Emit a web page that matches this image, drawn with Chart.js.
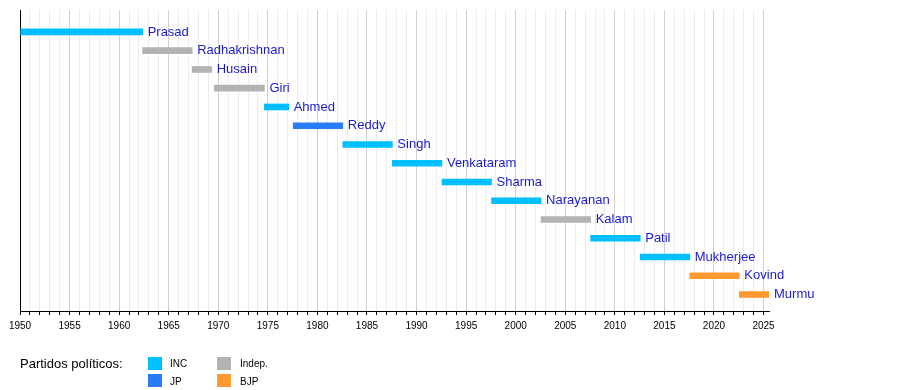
<!DOCTYPE html>
<html>
<head>
<meta charset="utf-8">
<script src="https://cdn.jsdelivr.net/npm/chart.js@4"></script>
<style>
body { margin:0; background:#fff; }
#wrap { position:relative; width:900px; height:390px; font-family:"Liberation Sans", Arial, sans-serif; }
#wrap canvas { position:absolute; left:0; top:0; }
.lg { position:absolute; color:#000; white-space:nowrap; }
.sw { position:absolute; width:14px; height:13px; }
</style>
</head>
<body>
<div id="wrap">
<canvas id="timeline" width="900" height="390"></canvas>
<div class="lg" style="left:20px;top:356px;font-size:13px;">Partidos políticos:</div>
<div class="sw" style="left:148px;top:357px;background:#00bfff"></div>
<div class="lg" style="left:170px;top:358px;font-size:10px;">INC</div>
<div class="sw" style="left:148px;top:374px;background:#2a7cf6"></div>
<div class="lg" style="left:170px;top:376px;font-size:10px;">JP</div>
<div class="sw" style="left:217px;top:357px;background:#b3b3b3"></div>
<div class="lg" style="left:240px;top:358px;font-size:10px;">Indep.</div>
<div class="sw" style="left:217px;top:374px;background:#ff9a33"></div>
<div class="lg" style="left:240px;top:376px;font-size:10px;">BJP</div>
</div>
<script>
// ========================================
// Data
// ========================================

const names = ["Prasad","Radhakrishnan","Husain","Giri","Ahmed","Reddy","Singh","Venkataram","Sharma","Narayanan","Kalam","Patil","Mukherjee","Kovind","Murmu"];
const starts = [1950.07,1962.37,1967.37,1969.6,1974.65,1977.56,1982.56,1987.56,1992.56,1997.56,2002.56,2007.56,2012.56,2017.56,2022.56];
const ends = [1962.37,1967.37,1969.34,1974.65,1977.1,1982.56,1987.56,1992.56,1997.56,2002.56,2007.56,2012.56,2017.56,2022.56,2025.55];
const parties = ["INC","Indep.","Indep.","Indep.","INC","JP","INC","INC","INC","INC","Indep.","INC","INC","BJP","BJP"];

const partyColors = { "INC":"#00bfff", "JP":"#2a7cf6", "Indep.":"#b3b3b3", "BJP":"#ff9a33" };

const font = "'Liberation Sans', Arial, sans-serif";
Chart.defaults.font.family = font;
Chart.defaults.color = "#000";

// ========================================
// Name labels next to bars
// ========================================

const nameLabels = {
  id: "nameLabels",
  afterDatasetsDraw(chart) {
    const ctx = chart.ctx;
    const meta = chart.getDatasetMeta(0);
    ctx.save();
    ctx.font = "13px " + font;
    ctx.fillStyle = "#1a1acc";
    ctx.textBaseline = "middle";
    meta.data.forEach((bar, i) => {
      const xEnd = Math.max(bar.x, bar.base);
      ctx.fillText(names[i], xEnd + 5, bar.y);
    });
    ctx.restore();
  }
};

// ========================================
// Timeline
// ========================================

new Chart(document.getElementById("timeline"), {
  type: "bar",
  data: {
    datasets: [{
      data: names.map((n, i) => ({ x: [starts[i], ends[i]], y: i })),
      backgroundColor: parties.map(p => partyColors[p]),
      barThickness: 6,
      borderWidth: 0
    }]
  },
  options: {
    indexAxis: "y",
    responsive: false,
    animation: false,
    devicePixelRatio: 1,
    layout: { padding: { left: 20, right: 131, top: 10, bottom: 53 } },
    plugins: { legend: { display: false }, tooltip: { enabled: false } },
    scales: {
      x: {
        type: "linear",
        min: 1950,
        max: 2025.55,
        ticks: {
          stepSize: 1,
          autoSkip: false,
          maxRotation: 0,
          includeBounds: false,
          padding: 5,
          font: { size: 10 },
          color: "#000",
          callback: v => (Math.round(v) % 5 === 0 ? String(Math.round(v)) : "")
        },
        grid: {
          color: c => (c.tick && Math.round(c.tick.value) % 5 === 0 ? "#d0d0d0" : "#ececec"),
          tickColor: "#000",
          tickLength: 4
        },
        border: { color: "#000", width: 1 }
      },
      y: {
        type: "linear",
        reverse: true,
        offset: false,
        min: -1.17,
        max: 14.88,
        ticks: { display: false },
        grid: { display: false, drawTicks: false },
        border: { color: "#000", width: 1 }
      }
    }
  },
  plugins: [nameLabels]
});
</script>
</body>
</html>
